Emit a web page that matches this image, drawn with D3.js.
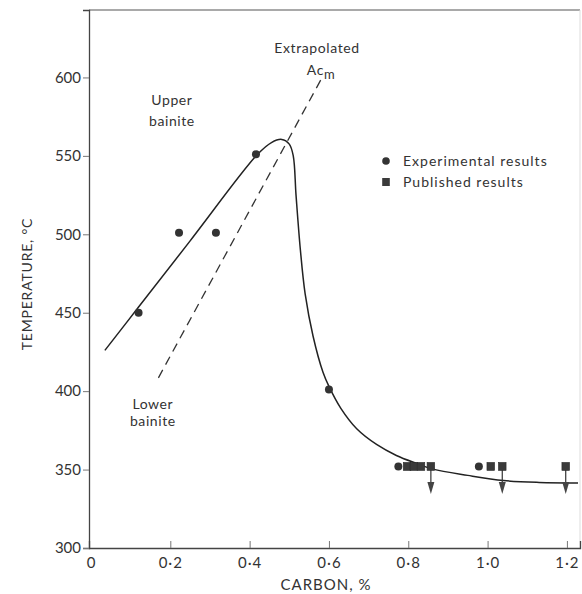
<!DOCTYPE html>
<html>
<head>
<meta charset="utf-8">
<script src="https://cdn.jsdelivr.net/npm/d3@7"></script>
<style>
  body { margin: 0; background: #fff; }
  svg text { font-family: Lato, "DejaVu Sans", sans-serif; fill: #333; }
</style>
</head>
<body>
<svg id="chart" width="582" height="594"></svg>
<script>
// tick labels
const xTicks = [0, 0.2, 0.4, 0.6, 0.8, 1.0, 1.2];
const yTicks = [300, 350, 400, 450, 500, 550, 600];

// experimental results (circles)
const expCarbon = [0.12, 0.222, 0.315, 0.416, 0.60, 0.775, 0.978];
const expTemp = [450, 501, 501, 551, 401, 352, 352];

// published results (squares), some with "below" arrows
const pubCarbon = [0.797, 0.814, 0.832, 0.857, 1.008, 1.037, 1.197];
const pubTemp = [352, 352, 352, 352, 352, 352, 352];
const pubArrow = [false, false, false, true, false, true, true];

// fitted curve through results
const curveCarbon = [0.035, 0.12, 0.25, 0.42, 0.455, 0.481, 0.50, 0.51, 0.517, 0.528, 0.54, 0.56, 0.585, 0.60, 0.63, 0.67, 0.72, 0.77, 0.82, 0.862, 0.95, 1.04, 1.13, 1.228];
const curveTemp = [426, 453.6, 495.8, 551, 558.5, 560.5, 557.5, 550, 525, 490, 462, 435, 412, 403, 389, 376, 366, 359, 354, 350.3, 346.3, 343, 341.8, 341.5];

// extrapolated Acm (dashed)
const acmCarbon = [0.17, 0.585];
const acmTemp = [408.5, 601];

const svg = d3.select("#chart");

const x = d3.scaleLinear().domain([-0.005, 1.233]).range([89, 580]);
const y = d3.scaleLinear().domain([300, 643]).range([548, 10]);

// frame
svg.append("line")
  .attr("x1", x.range()[0]).attr("x2", x.range()[1])
  .attr("y1", y.range()[1]).attr("y2", y.range()[1])
  .attr("stroke", "#555").attr("stroke-width", 1.2);
svg.append("line")
  .attr("x1", x.range()[1]).attr("x2", x.range()[1])
  .attr("y1", y.range()[1]).attr("y2", y.range()[0])
  .attr("stroke", "#ddd").attr("stroke-width", 1);

const fmt = (d) => (d === 0 ? "0" : d3.format(".1f")(d).replace(".", "\u00b7"));

// x axis
const gx = svg.append("g")
  .attr("transform", `translate(0,${y.range()[0]})`)
  .call(d3.axisBottom(x).tickValues(xTicks).tickSize(-7).tickPadding(9).tickFormat(fmt));
gx.select(".domain").attr("stroke", "#444").attr("stroke-width", 1.3);
gx.selectAll(".tick line").attr("stroke", "#777");
gx.selectAll(".tick text").attr("font-size", 15).attr("fill", "#333").attr("letter-spacing", 1);
gx.selectAll(".tick").filter((d) => d === 0).select("line").remove();

// y axis
const gy = svg.append("g")
  .attr("transform", `translate(${x.range()[0]},0)`)
  .call(d3.axisLeft(y).tickValues(yTicks).tickSize(6).tickPadding(2));
gy.select(".domain").attr("stroke", "#444").attr("stroke-width", 1.3);
gy.selectAll(".tick line").attr("stroke", "#777");
gy.selectAll(".tick text").attr("font-size", 15).attr("fill", "#333");

// axis titles
svg.append("text")
  .attr("x", 326).attr("y", 585).attr("dy", "0.35em")
  .attr("text-anchor", "middle").attr("font-size", 15).attr("letter-spacing", 1)
  .text("CARBON, %");

svg.append("text")
  .attr("transform", "translate(27,284) rotate(-90)")
  .attr("dy", "0.35em").attr("text-anchor", "middle")
  .attr("font-size", 14).attr("letter-spacing", 0.8)
  .text("TEMPERATURE, \u00b0C");

// dashed Acm line
svg.append("path")
  .datum(d3.zip(acmCarbon, acmTemp))
  .attr("d", d3.line().x((d) => x(d[0])).y((d) => y(d[1])))
  .attr("fill", "none").attr("stroke", "#333").attr("stroke-width", 1.3)
  .attr("stroke-dasharray", "9,6");

// solid curve
svg.append("path")
  .datum(d3.zip(curveCarbon, curveTemp))
  .attr("d", d3.line().x((d) => x(d[0])).y((d) => y(d[1])).curve(d3.curveCatmullRom.alpha(0.5)))
  .attr("fill", "none").attr("stroke", "#222").attr("stroke-width", 1.5);

// arrows under published results
const arrowTip = 334.5;
const pub = d3.range(pubCarbon.length).map((i) => ({ c: pubCarbon[i], t: pubTemp[i], a: pubArrow[i] }));
const arrows = svg.append("g").selectAll("g").data(pub.filter((d) => d.a)).join("g");
arrows.append("line")
  .attr("x1", (d) => x(d.c)).attr("x2", (d) => x(d.c))
  .attr("y1", (d) => y(d.t)).attr("y2", y(arrowTip) - 8)
  .attr("stroke", "#333").attr("stroke-width", 1.2);
arrows.append("path")
  .attr("d", (d) => {
    const cx = x(d.c), ty = y(arrowTip);
    return `M${cx - 3.5},${ty - 12}L${cx + 3.5},${ty - 12}L${cx},${ty}Z`;
  })
  .attr("fill", "#444");

// squares
svg.append("g").selectAll("rect").data(pub).join("rect")
  .attr("x", (d) => x(d.c) - 3.8).attr("y", (d) => y(d.t) - 4)
  .attr("width", 7.6).attr("height", 8)
  .attr("fill", "#3a3a3a").attr("stroke", "#2a2a2a").attr("stroke-width", 0.6);

// circles
svg.append("g").selectAll("circle").data(d3.zip(expCarbon, expTemp)).join("circle")
  .attr("cx", (d) => x(d[0])).attr("cy", (d) => y(d[1]))
  .attr("r", 4).attr("fill", "#333");

// annotations
function label(lines, c, t, step) {
  lines.forEach((s, i) => {
    svg.append("text")
      .attr("x", x(c)).attr("y", y(t) + i * step).attr("dy", "0.35em")
      .attr("text-anchor", "middle").attr("font-size", 14).attr("letter-spacing", 0.6)
      .text(s);
  });
}
label(["Upper", "bainite"], 0.204, 585.6, 21);
label(["Lower", "bainite"], 0.156, 391.8, 17);
label(["Extrapolated"], 0.57, 618.8, 0);

const acm = svg.append("text")
  .attr("x", x(0.58)).attr("y", y(604.5)).attr("dy", "0.35em")
  .attr("text-anchor", "middle").attr("font-size", 14).attr("letter-spacing", 0.6);
acm.append("tspan").text("Ac");
acm.append("tspan").attr("dy", 4).attr("font-size", 13).text("m");

// legend
const legendItems = ["Experimental results", "Published results"];
const leg = svg.append("g").attr("transform", "translate(386,161)");
leg.append("circle").attr("cx", 0).attr("cy", 0).attr("r", 3.8).attr("fill", "#333");
leg.append("rect").attr("x", -3.8).attr("y", 21 - 4).attr("width", 7.6).attr("height", 8).attr("fill", "#3a3a3a");
leg.selectAll("text").data(legendItems).join("text")
  .attr("x", 17).attr("y", (d, i) => i * 21).attr("dy", "0.35em")
  .attr("font-size", 14).attr("letter-spacing", 1)
  .text((d) => d);
</script>
</body>
</html>
